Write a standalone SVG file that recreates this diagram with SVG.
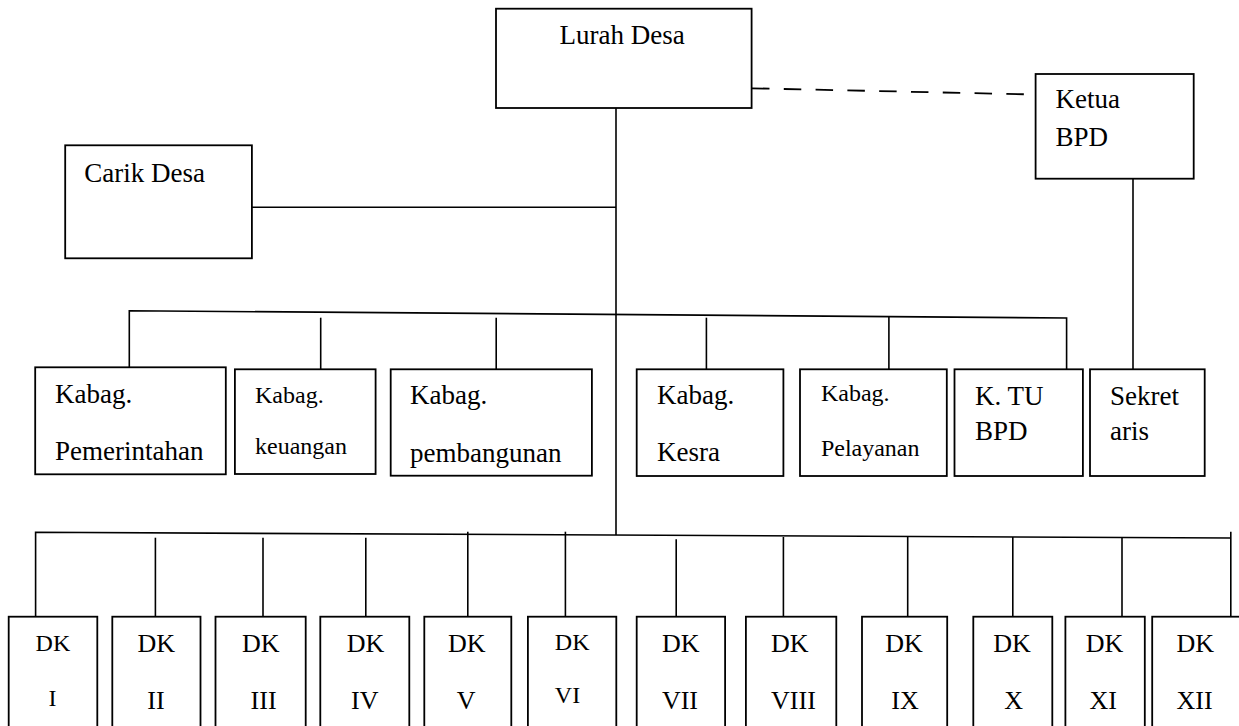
<svg xmlns="http://www.w3.org/2000/svg" width="1239" height="726" viewBox="0 0 1239 726">
<style>
.box{fill:#fff;stroke:#000;stroke-width:1.8}
.ln{stroke:#000;stroke-width:1.6;fill:none}
.dash{stroke:#000;stroke-width:1.8;fill:none;stroke-dasharray:17.5 14.3}
text{font-family:"Liberation Serif","Times New Roman",serif;fill:#000;font-size:27px}
.s{font-size:24px}
.d{font-size:26px}
</style>
<rect width="1239" height="726" fill="#fff"/>
<g id="connectors">
<line class="ln" x1="616" y1="108" x2="616" y2="535"/>
<line class="dash" x1="752" y1="88.3" x2="1026" y2="94.3"/>
<line class="ln" x1="252" y1="207.3" x2="616" y2="207.3"/>
<line class="ln" x1="1133" y1="178.7" x2="1133" y2="369.3"/>
<polyline class="ln" points="129.3,369.3 129.3,310.7 1066.6,318 1066.6,373"/>
<line class="ln" x1="320.7" y1="317.7" x2="320.7" y2="373.3"/>
<line class="ln" x1="496.2" y1="317.7" x2="496.2" y2="369.3"/>
<line class="ln" x1="706.4" y1="317.7" x2="706.4" y2="373"/>
<line class="ln" x1="888.9" y1="316.5" x2="888.9" y2="373"/>
<polyline class="ln" points="35.6,616.7 35.6,532.3 1230.8,538"/>
<line class="ln" x1="1230.8" y1="531.7" x2="1230.8" y2="616.7"/>
<line class="ln" x1="155.4" y1="537.7" x2="155.4" y2="616.7"/>
<line class="ln" x1="263" y1="537.7" x2="263" y2="616.7"/>
<line class="ln" x1="365.8" y1="537.7" x2="365.8" y2="616.7"/>
<line class="ln" x1="467.8" y1="531.7" x2="467.8" y2="616.7"/>
<line class="ln" x1="565.4" y1="531.7" x2="565.4" y2="616.7"/>
<line class="ln" x1="676.2" y1="539.3" x2="676.2" y2="623.3"/>
<line class="ln" x1="783.4" y1="537" x2="783.4" y2="623"/>
<line class="ln" x1="907.7" y1="537" x2="907.7" y2="623"/>
<line class="ln" x1="1012.8" y1="537" x2="1012.8" y2="616.7"/>
<line class="ln" x1="1122" y1="537" x2="1122" y2="616.7"/>
</g>
<g id="lurah"><rect class="box" x="496" y="8.7" width="255.6" height="99.3"/><text x="559.5" y="44.3">Lurah Desa</text></g>
<g id="carik"><rect class="box" x="65.2" y="145.3" width="186.7" height="113"/><text x="84.2" y="181.7">Carik Desa</text></g>
<g id="ketua"><rect class="box" x="1035.6" y="74" width="158.1" height="104.7"/><text x="1055.6" y="108">Ketua</text><text x="1055.6" y="145.7">BPD</text></g>
<g id="pemerintahan"><rect class="box" x="35.2" y="367.3" width="190.6" height="107"/><text x="55" y="403.3">Kabag.</text><text x="55" y="460">Pemerintahan</text></g>
<g id="keuangan"><rect class="box" x="234.9" y="369.3" width="140.7" height="104.7"/><text class="s" x="255" y="402.7">Kabag.</text><text class="s" x="255" y="454.3">keuangan</text></g>
<g id="pembangunan"><rect class="box" x="390.7" y="369.3" width="201.2" height="106.4"/><text x="410" y="404">Kabag.</text><text x="410" y="461.7">pembangunan</text></g>
<g id="kesra"><rect class="box" x="636.7" y="369.3" width="146.7" height="106.7"/><text x="657" y="404">Kabag.</text><text x="657" y="460.7">Kesra</text></g>
<g id="pelayanan"><rect class="box" x="800" y="369.3" width="146.8" height="106.7"/><text class="s" x="820.9" y="400.7">Kabag.</text><text class="s" x="820.9" y="455.7">Pelayanan</text></g>
<g id="ktu"><rect class="box" x="954.5" y="369.3" width="128.4" height="106.7"/><text x="975" y="405">K. TU</text><text x="975" y="440">BPD</text></g>
<g id="sekretaris"><rect class="box" x="1090" y="369.3" width="114.7" height="106.7"/><text x="1110" y="405">Sekret</text><text x="1110" y="440">aris</text></g>
<g id="dk1"><rect class="box" x="8.7" y="616.7" width="88.6" height="120"/><text class="s" x="35.6" y="650.7">DK</text><text class="s" x="52.5" y="706" text-anchor="middle">I</text></g>
<g id="dk2"><rect class="box" x="112.3" y="616.7" width="88.2" height="120"/><text class="d" x="137.6" y="651.7">DK</text><text class="d" x="156" y="709" text-anchor="middle">II</text></g>
<g id="dk3"><rect class="box" x="215.5" y="616.7" width="90.2" height="120"/><text class="d" x="242" y="651.7">DK</text><text class="d" x="263.6" y="709" text-anchor="middle">III</text></g>
<g id="dk4"><rect class="box" x="320.3" y="616.7" width="89" height="120"/><text class="d" x="346.8" y="651.7">DK</text><text class="d" x="364.8" y="709" text-anchor="middle">IV</text></g>
<g id="dk5"><rect class="box" x="424.3" y="616.7" width="87" height="120"/><text class="d" x="448" y="651.7">DK</text><text class="d" x="466.2" y="709" text-anchor="middle">V</text></g>
<g id="dk6"><rect class="box" x="527.9" y="616.7" width="88.4" height="120"/><text class="s" x="554.8" y="650">DK</text><text class="s" x="554.8" y="703.3">VI</text></g>
<g id="dk7"><rect class="box" x="636.7" y="616.7" width="88.4" height="120"/><text class="d" x="661.9" y="651.7">DK</text><text class="d" x="661.9" y="709">VII</text></g>
<g id="dk8"><rect class="box" x="745.9" y="616.7" width="90.4" height="120"/><text class="d" x="771.1" y="651.7">DK</text><text class="d" x="771.1" y="709">VIII</text></g>
<g id="dk9"><rect class="box" x="862" y="616.7" width="85.2" height="120"/><text class="d" x="885.3" y="651.7">DK</text><text class="d" x="905" y="709" text-anchor="middle">IX</text></g>
<g id="dk10"><rect class="box" x="973.3" y="616.7" width="79" height="120"/><text class="d" x="993.2" y="651.7">DK</text><text class="d" x="1013.6" y="709" text-anchor="middle">X</text></g>
<g id="dk11"><rect class="box" x="1065.4" y="616.7" width="79.4" height="120"/><text class="d" x="1085.7" y="651.7">DK</text><text class="d" x="1103.3" y="709" text-anchor="middle">XI</text></g>
<g id="dk12"><rect class="box" x="1152.2" y="616.7" width="100" height="120"/><text class="d" x="1176.6" y="651.7">DK</text><text class="d" x="1176.6" y="709">XII</text></g>
</svg>
